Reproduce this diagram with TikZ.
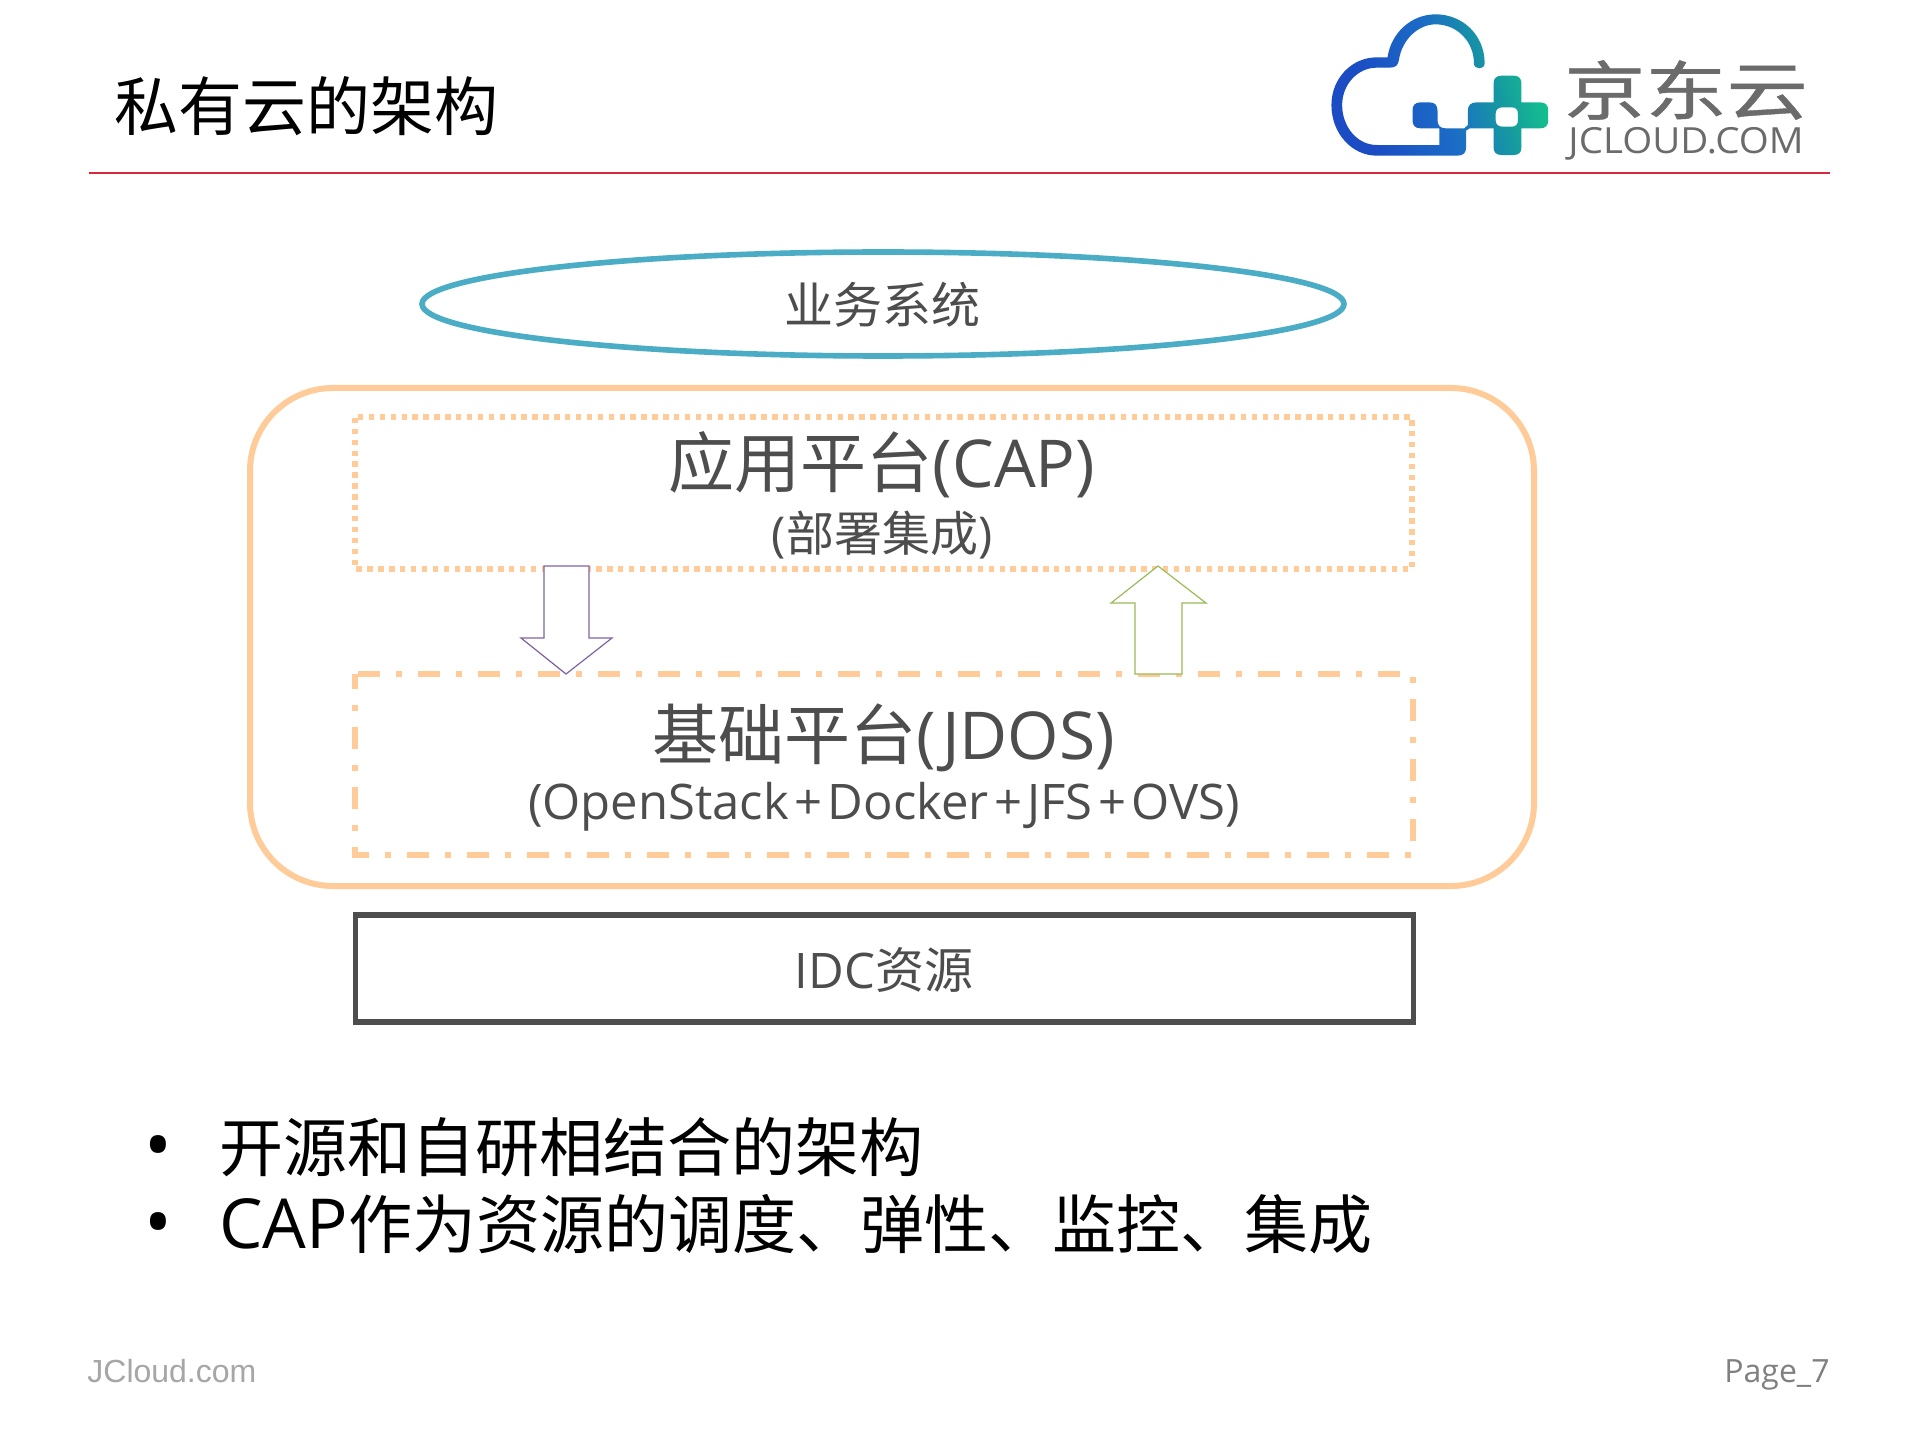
\documentclass[tikz,border=0pt]{standalone}
\usepackage{fontspec}
\usetikzlibrary{shapes.geometric}
\setmainfont{Open Sans}
\newfontfamily\cjk{Noto Sans CJK SC}
\newfontfamily\cjkheavy[FakeBold=0.6]{Noto Sans CJK SC}
\newfontfamily\arialf{Liberation Sans}
\definecolor{peach}{HTML}{FFCC99}
\definecolor{txt}{HTML}{4D4D4D}
\definecolor{elb}{HTML}{4BACC6}
\definecolor{redl}{HTML}{D9283C}
\definecolor{logoa}{HTML}{1B4CC4}
\definecolor{logob}{HTML}{1B6CC6}
\definecolor{logom}{HTML}{169AA0}
\definecolor{logoc}{HTML}{12CF86}
\definecolor{arrowv}{HTML}{8064A2}
\definecolor{arrowg}{HTML}{9BBB59}
\pgfdeclarehorizontalshading{logoshade}{100bp}{color(0bp)=(logoa); color(30bp)=(logoa); color(50bp)=(logob); color(64bp)=(logom); color(78bp)=(logoc); color(100bp)=(logoc)}
\newcommand{\plusk}{\kern2.7pt+\kern2.7pt}
\tikzset{
  box/.style={shape=rectangle,inner sep=0pt,outer sep=0pt},
  orange edge/.style={draw=peach,line width=2.8pt},
  dottededge/.style={orange edge,dash pattern=on 2.7pt off 2.75pt,dash phase=4pt},
  dashdotedge/.style={orange edge,dash pattern=on 11pt off 8pt on 3pt off 8pt,dash phase=28.5pt},
  label big/.style={inner sep=0pt,text=txt,font=\fontsize{33pt}{36pt}\selectfont},
  label mid/.style={inner sep=0pt,text=txt,font=\fontsize{24.5pt}{28pt}\selectfont},
  black line/.style={inner sep=0pt,anchor=west,text=black,font=\fontsize{32pt}{36pt}\selectfont},
  bullet dot/.style={inner sep=0pt,text=black,font=\fontsize{37pt}{40pt}\selectfont},
  blockarrow/.style={fill=white,line width=0.6pt,line join=miter},
}
\begin{document}
\begin{tikzpicture}[x=0.5pt,y=-0.5pt]
\useasboundingbox[fill=white] (0,0) rectangle (1919,1439);

% header
\node[black line] (title) at (114,106) {\cjk 私有云的架构};
\coordinate (ruleL) at (89,173);
\coordinate (ruleR) at (1830,173);
\draw[redl,line width=1.4pt] (ruleL) -- (ruleR);

% logo
\begin{scope}[shift={(1300,0)},x=0.17857pt,y=-0.16667pt]
\shade[even odd rule,shading=logoshade,shading angle=15]
  (517,190) .. controls (517,105) and (455,43) .. (380,43)
  .. controls (310,43) and (255,100) .. (245,172)
  -- (215,172) .. controls (145,172) and (88,235) .. (88,315)
  .. controls (88,400) and (145,467) .. (215,467)
  -- (440,467) .. controls (458,467) and (465,458) .. (465,442)
  -- (465,392) -- (475,385)
  -- (542,385) -- (542,442) .. controls (542,458) and (550,465) .. (565,465)
  -- (598,465) .. controls (612,465) and (620,458) .. (620,442)
  -- (620,385) -- (672,385) .. controls (688,385) and (695,376) .. (695,360)
  -- (695,332) .. controls (695,316) and (688,307) .. (672,307)
  -- (620,307) -- (620,250) .. controls (620,235) and (612,227) .. (598,227)
  -- (565,227) .. controls (550,227) and (542,235) .. (542,250)
  -- (542,307) -- (495,307) .. controls (478,307) and (470,316) .. (470,332)
  -- (470,375) -- (460,385)
  -- (408,385) .. controls (392,385) and (385,376) .. (385,360)
  -- (385,332) .. controls (385,316) and (378,307) .. (362,307)
  -- (338,307) .. controls (322,307) and (315,316) .. (315,332)
  -- (315,360) .. controls (315,376) and (322,385) .. (338,385)
  -- (390,385) -- (390,435) -- (215,435)
  .. controls (160,435) and (118,380) .. (118,315)
  .. controls (118,255) and (160,203) .. (215,203)
  -- (252,203) .. controls (268,203) and (275,195) .. (277,180)
  .. controls (285,120) and (330,73) .. (380,73)
  .. controls (440,73) and (487,125) .. (487,190)
  .. controls (487,210) and (517,210) .. (517,190) -- cycle
  (568,322) -- (592,322) .. controls (604,322) and (610,328) .. (610,340)
  -- (610,362) .. controls (610,374) and (604,380) .. (592,380)
  -- (568,380) .. controls (556,380) and (548,374) .. (548,362)
  -- (548,340) .. controls (548,328) and (556,322) .. (568,322) -- cycle;
\end{scope}
\node[inner sep=0pt,text=black!58,xscale=1.27,font=\fontsize{32pt}{36pt}\selectfont] (logocn) at (1686,90) {\cjkheavy 京东云};
\node[inner sep=0pt,text=black!58,xscale=1.07,font=\fontsize{18pt}{20pt}\selectfont] (logoen) at (1686,144) {JCLOUD.COM};

% tiers
\node[box,shape=ellipse,draw=elb,line width=2.8pt,minimum width=461pt,minimum height=52pt] (biz) at (883,304) {};
\node[label mid] (bizt) at (882,305) {\cjk 业务系统};

\node[box,orange edge,line width=3pt,rounded corners=41.5pt,minimum width=642pt,minimum height=249pt] (outer) at (892,637) {};
\node[box,minimum width=528.5pt,minimum height=76pt] (cap) at (883.5,493) {};
\draw[dottededge] (cap.north west) -- (cap.north east) -- (cap.south east) -- (cap.south west) -- cycle;
\node[box,minimum width=529pt,minimum height=90.5pt] (jdos) at (884,764.5) {};
\draw[dashdotedge] (jdos.north west) -- (jdos.north east) -- (jdos.south east) -- (jdos.south west) -- cycle;

\node[label big] (capt) at (882,465) {{\cjk 应用平台}(CAP)};
\node[label mid,font=\fontsize{24pt}{28pt}\selectfont] (caps) at (882,535) {({\cjk 部署集成})};
\node[label big] (jdost) at (884,738) {{\cjk 基础平台}(JDOS)};
\node[label mid] (jdoss) at (884,807) {(OpenStack\plusk Docker\plusk JFS\plusk OVS)};

\node[box,draw=txt,line width=2.6pt,minimum width=529pt,minimum height=53.5pt] (idc) at (884.5,968.5) {};
\node[label mid] (idct) at (884,970) {IDC{\cjk 资源}};

% block arrows
\draw[blockarrow,draw=arrowv] (544,566) -- (589,566) -- (589,638) -- (612,638) -- (566,674) -- (521,638) -- (544,638) -- cycle;
\draw[blockarrow,draw=arrowg] (1158,566) -- (1206,603) -- (1182,603) -- (1182,674) -- (1135,674) -- (1135,603) -- (1111,603) -- cycle;

% bullets
\node[bullet dot] (b1) at (158,1154) {•};
\node[bullet dot] (b2) at (158,1231) {•};
\node[black line] (l1) at (219,1147) {\cjk 开源和自研相结合的架构};
\node[black line] (l2) at (219,1224) {\fontsize{34.5pt}{36pt}\selectfont CAP\fontsize{32pt}{36pt}\selectfont{\cjk 作为资源的调度、弹性、监控、集成}};

% footer
\node[inner sep=0pt,anchor=west,text=black!35,font=\arialf\fontsize{16pt}{20pt}\selectfont] (f1) at (87,1371) {JCloud.com};
\node[inner sep=0pt,anchor=east,text=black!50,font=\fontsize{16pt}{20pt}\selectfont] (f2) at (1830,1375) {Page\_7};
\end{tikzpicture}
\end{document}
